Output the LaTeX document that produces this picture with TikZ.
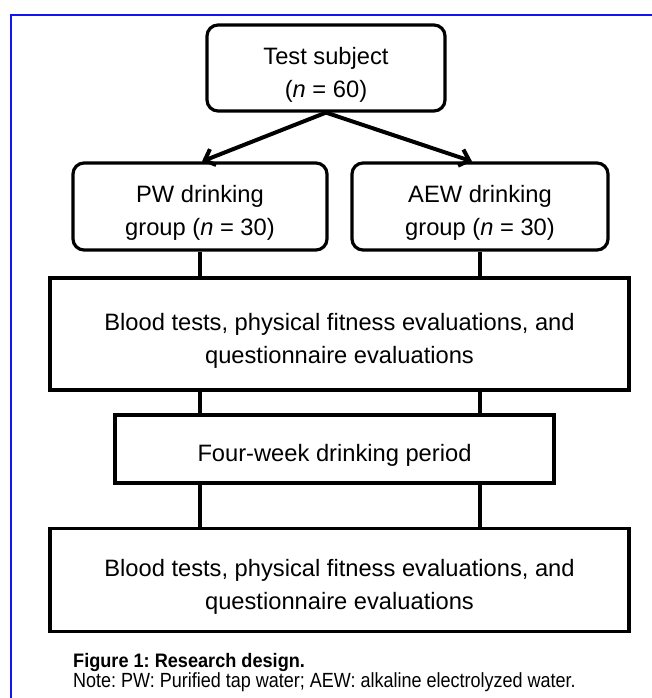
\documentclass[tikz,border=0pt]{standalone}
\usepackage{fontspec}
\setmainfont{Liberation Sans}
\newfontfamily\capnarrow[FakeStretch=0.878]{Liberation Sans}
\newfontfamily\capbold[FakeStretch=0.93]{Liberation Sans Bold}
\usetikzlibrary{arrows.meta}
\tikzset{
  boxbase/.style={draw=black, line width=3.2pt, inner sep=0pt},
  roundbox/.style={boxbase, rounded corners=11pt},
  squarebox/.style={boxbase},
  boxtext/.style={align=center, inner sep=0pt, yshift=-6.5pt, text=black,
    font=\fontsize{23.7}{33}\selectfont},
  link/.style={draw=black, line width=3.4pt},
  splitarrow/.style={draw=black, line width=4pt, -{Straight Barb[length=9pt,width=17pt,line width=4pt]}},
  frameline/.style={draw={rgb,255:red,20;green,20;blue,240}, line width=1.6pt},
  capline/.style={anchor=base west, inner sep=0pt, text=black}
}
\begin{document}
\frenchspacing
\begin{tikzpicture}[x=1pt,y=-1pt]
\useasboundingbox (0,0) rectangle (651,698);
\fill[white] (0,0) rectangle (651,698);
% blue frame
\draw[frameline] (10,15) -- (652,15);
\draw[frameline] (11,15) -- (11,699);
% boxes
\node[roundbox, minimum width=238pt, minimum height=86pt] (top) at (326,68) {};
\node[roundbox, minimum width=254pt, minimum height=87pt] (pw) at (200,206.5) {};
\node[roundbox, minimum width=256pt, minimum height=87pt] (aew) at (480,206.5) {};
\node[squarebox, minimum width=579pt, minimum height=112pt] (b1) at (339.5,334) {};
\node[squarebox, minimum width=439pt, minimum height=68pt] (four) at (334.5,449) {};
\node[squarebox, minimum width=579pt, minimum height=103pt] (b2) at (339.5,580) {};
% texts
\node[boxtext] (toptext) at (top.center) {Test subject\\(\textit{n} = 60)};
\node[boxtext] (pwtext) at (pw.center) {PW drinking\\group (\textit{n} = 30)};
\node[boxtext] (aewtext) at (aew.center) {AEW drinking\\group (\textit{n} = 30)};
\node[boxtext] (b1text) at (b1.center) {Blood tests, physical fitness evaluations, and\\questionnaire evaluations};
\node[boxtext] (fourtext) at (four.center) {Four-week drinking period};
\node[boxtext] (b2text) at (b2.center) {Blood tests, physical fitness evaluations, and\\questionnaire evaluations};
% arrows
\coordinate (split) at (top.south);
\draw[splitarrow] (split) -- ([xshift=2pt]pw.north);
\draw[splitarrow] (split) -- ([xshift=-8pt]aew.north);
% vertical links
\draw[link] (pw.south) -- (pw.south |- b1.north);
\draw[link] (aew.south) -- (aew.south |- b1.north);
\draw[link] (pw.south |- b1.south) -- (pw.south |- four.north);
\draw[link] (aew.south |- b1.south) -- (aew.south |- four.north);
\draw[link] (pw.south |- four.south) -- (pw.south |- b2.north);
\draw[link] (aew.south |- four.south) -- (aew.south |- b2.north);
% caption
\node[capline, font=\fontsize{19.5}{22}\capbold] (cap1) at (73,667) {Figure 1: Research design.};
\node[capline, font=\fontsize{20.5}{22}\capnarrow] (cap2) at (73,687) {Note: PW: Purified tap water; AEW: alkaline electrolyzed water.};
\end{tikzpicture}
\end{document}
